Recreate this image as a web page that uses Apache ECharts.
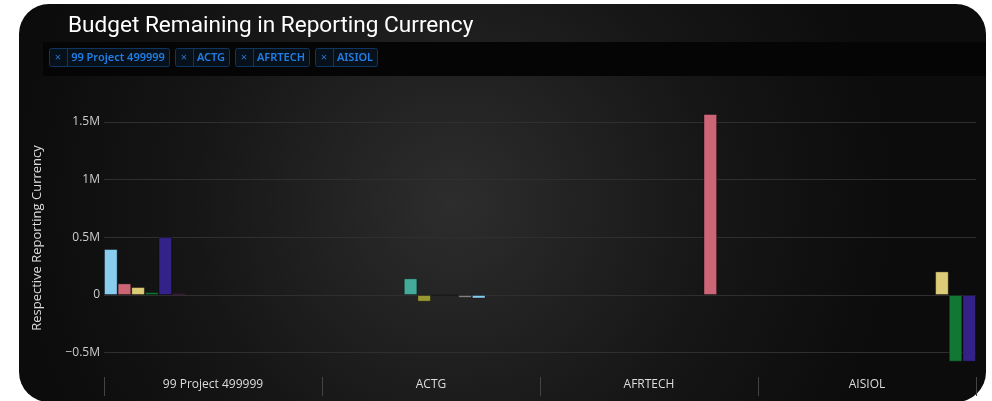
<!DOCTYPE html>
<html>
<head>
<meta charset="utf-8">
<script src="https://cdn.jsdelivr.net/npm/echarts@6/dist/echarts.min.js"></script>
<style>
	html, body { margin: 0; padding: 0; background: #fff; }
	#main { width: 992px; height: 401px; }
</style>
</head>
<body>
<div id="main"></div>
<script>
	// categories + filter chips
	var categories = ['99 Project 499999', 'ACTG', 'AFRTECH', 'AISIOL'];
	var filters = ['99 Project 499999', 'ACTG', 'AFRTECH', 'AISIOL'];
	var yTicks = [-500000, 0, 500000, 1000000, 1500000];

	// one row per series, values per category (null = no bar)
	var s01 = [399000, null, null, null];
	var s02 = [101000, null, null, null];
	var s03 = [69000, null, null, null];
	var s04 = [26000, null, null, null];
	var s05 = [503000, null, null, null];
	var s06 = [15000, null, null, null];
	var s07 = [null, 145000, null, null];
	var s08 = [null, -58000, null, null];
	var s09 = [null, -4000, null, null];
	var s10 = [null, -4000, null, null];
	var s11 = [null, -25000, null, null];
	var s12 = [null, -30000, null, null];
	var s13 = [null, null, 1570000, null];
	var s14 = [null, null, null, 205000];
	var s15 = [null, null, null, -578000];
	var s16 = [null, null, null, -578000];
	var seriesValues = [s01, s02, s03, s04, s05, s06, s07, s08, s09, s10, s11, s12, s13, s14, s15, s16];

	var palette = ['#88CCEE', '#CC6677', '#DDCC77', '#117733', '#332288', '#AA4499',
		'#44AA99', '#999933', '#882255', '#661100', '#888888'];

	var chart = echarts.init(document.getElementById('main'), null, { renderer: 'canvas' });

	// chips, widths measured from the text
	var ctx = document.createElement('canvas').getContext('2d');
	var chipFont = '600 11px "Noto Sans"';
	ctx.font = chipFont;
	var graphics = [{
		type: 'rect', z: -10, silent: true,
		shape: { x: 19, y: 4, width: 967, height: 398, r: 30 },
		style: {
			fill: {
				type: 'radial', x: 0.45, y: 0.5, r: 1.1,
				colorStops: [{ offset: 0, color: '#2d2d2d' }, { offset: 0.6, color: '#161616' }, { offset: 1, color: '#0c0c0c' }]
			}
		}
	}, {
		type: 'rect', z: -9, silent: true,
		shape: { x: 43, y: 42, width: 943, height: 34 },
		style: { fill: '#050505' }
	}];
	var cx = 49;
	filters.forEach(function(name) {
		var w = Math.round(ctx.measureText(name).width) + 8;
		graphics.push({
			type: 'rect', z: 5, silent: true,
			shape: { x: cx + 0.5, y: 48.5, width: 18 + w, height: 18, r: 2 },
			style: { fill: '#07111c', stroke: '#11355c', lineWidth: 1 }
		});
		graphics.push({
			type: 'line', z: 6, silent: true,
			shape: { x1: cx + 18.5, y1: 49, x2: cx + 18.5, y2: 66 },
			style: { stroke: '#11355c', lineWidth: 1 }
		});
		graphics.push({
			type: 'text', z: 6, silent: true,
			style: { x: cx + 9, y: 57.5, text: '×', fill: '#2b74c8', font: '11px "Noto Sans"', align: 'center', verticalAlign: 'middle' }
		});
		graphics.push({
			type: 'text', z: 6, silent: true,
			style: { x: cx + 18 + w / 2, y: 57.5, text: name, fill: '#1f7ee6', font: chipFont, align: 'center', verticalAlign: 'middle' }
		});
		cx += 18 + w + 6;
	});

	function fmt(v) {
		if (v === 0) return '0';
		return (v < 0 ? '\u2212' : '') + (Math.abs(v) / 1000000) + 'M';
	}

	var series = seriesValues.map(function(vals, i) {
		var s = {
			name: 'Series ' + (i + 1),
			type: 'bar',
			data: vals,
			barGap: '0%',
			barCategoryGap: '0%',
			itemStyle: {
				color: palette[i % palette.length],
				borderColor: 'rgba(0,0,0,0.35)',
				borderWidth: 1
			}
		};
		if (i === 0) {
			// horizontal grid lines at the labelled ticks
			s.markLine = {
				silent: true, symbol: 'none', z: 1,
				label: { show: false },
				lineStyle: { color: '#2f2f2f', type: 'solid', width: 1 },
				data: yTicks.map(function(t) { return { yAxis: t }; })
			};
		}
		return s;
	});

	chart.setOption({
		animation: false,
		backgroundColor: 'transparent',
		title: {
			text: 'Budget Remaining in Reporting Currency',
			left: 63, top: 10,
			textStyle: { color: '#fff', fontFamily: 'Roboto', fontSize: 22.6, fontWeight: 'normal' }
		},
		graphic: graphics,
		grid: { left: 104, right: 16, top: 99, bottom: 24 },
		xAxis: {
			type: 'category',
			data: categories,
			axisLine: { show: false, onZero: false },
			axisTick: { show: true, length: 19, lineStyle: { color: '#444' } },
			axisLabel: { color: '#ddd', fontSize: 12, fontFamily: 'Open Sans', margin: 2 }
		},
		yAxis: {
			type: 'value',
			min: -711000,
			max: 1700000,
			name: 'Respective Reporting Currency',
			nameLocation: 'middle',
			nameGap: 60,
			nameTextStyle: { color: '#ddd', fontSize: 13, fontFamily: 'Open Sans' },
			axisLine: { show: false },
			axisTick: { show: false },
			splitLine: { show: false },
			axisLabel: {
				customValues: yTicks,
				color: '#ccc', fontSize: 12, fontFamily: 'Open Sans', margin: 4,
				formatter: fmt
			}
		},
		series: series
	});
</script>
</body>
</html>
